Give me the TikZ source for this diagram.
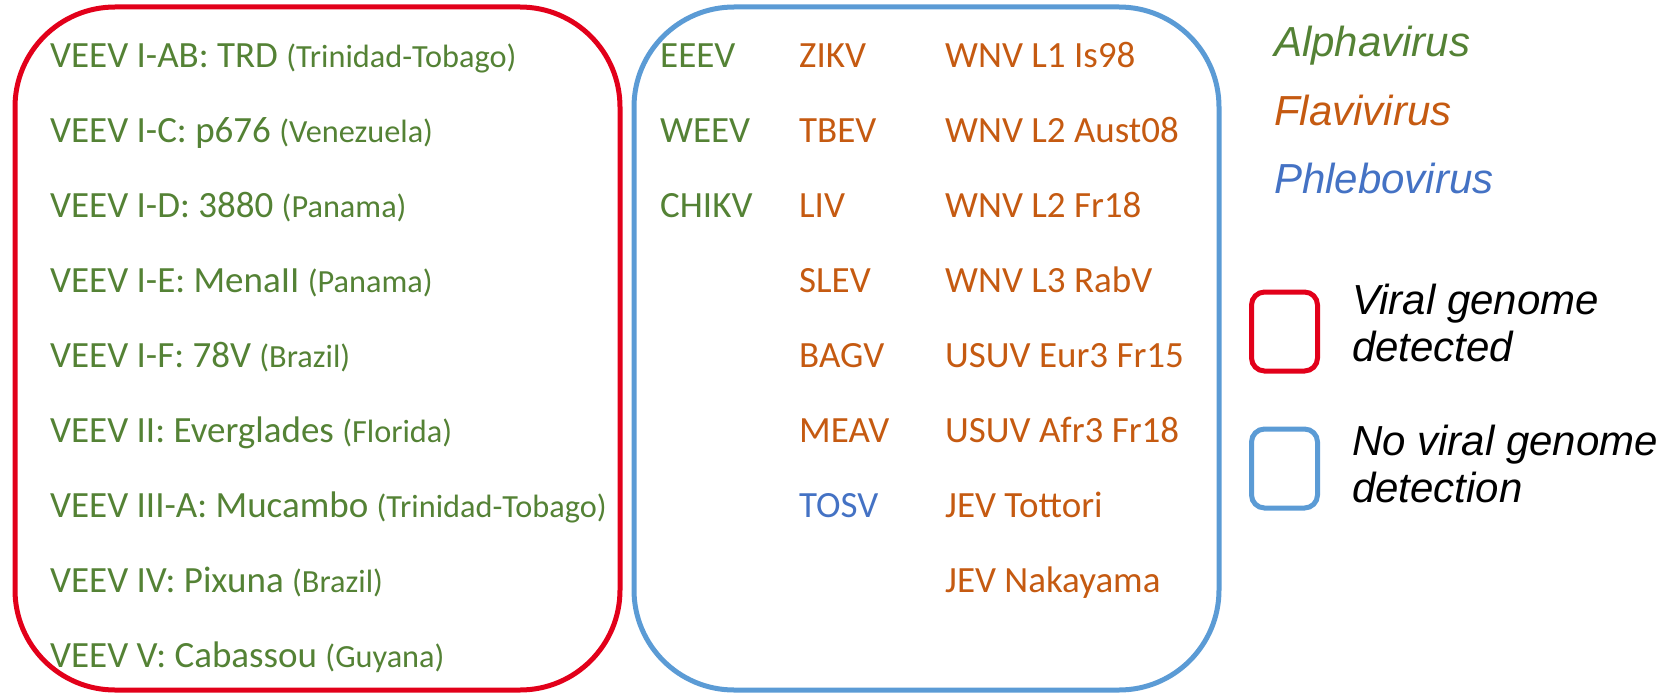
\documentclass[tikz,border=0pt]{standalone}
\usepackage{fontspec}
\setmainfont{Carlito}
\newfontfamily\legfont{Liberation Sans}
\definecolor{vgreen}{HTML}{548235}
\definecolor{vorange}{HTML}{C55A11}
\definecolor{vblue}{HTML}{4472C4}
\definecolor{boxred}{HTML}{E2001A}
\definecolor{boxblue}{HTML}{5B9BD5}
\newcommand\ctry[1]{{\fontsize{32.3}{34}\selectfont(#1)}}
\begin{document}
\begin{tikzpicture}[x=1pt,y=-1pt,
  txt/.style={anchor=base west, inner sep=0pt, font=\fontsize{37}{40}\selectfont},
  grn/.style={txt, text=vgreen},
  org/.style={txt, text=vorange},
  blu/.style={txt, text=vblue},
  bigbox/.style={draw=#1, line width=5pt, rounded corners=100pt, inner sep=0pt, minimum width=590pt, minimum height=683pt},
  legbox/.style={draw=#1, line width=5pt, rounded corners=13pt, inner sep=0pt, minimum width=66pt, minimum height=79pt},
  legtxt/.style={anchor=base west, inner sep=0pt, align=left, font=\legfont\itshape\fontsize{42}{47}\selectfont}
]
\useasboundingbox (0,0) rectangle (1676,693);
% boxes
\node[bigbox=boxred, minimum width=605pt] (redbox) at (317.5,348.5) {};
\node[bigbox=boxblue, minimum width=585pt] (bluebox) at (926.5,348.5) {};
% left column
\node[grn] (r1) at (50,67) {VEEV I-AB: TRD \ctry{Trinidad-Tobago}};
\node[grn] (r2) at (50,142) {VEEV I-C: p676 \ctry{Venezuela}};
\node[grn] (r3) at (50,217) {VEEV I-D: 3880 \ctry{Panama}};
\node[grn] (r4) at (50,292) {VEEV I-E: MenaII \ctry{Panama}};
\node[grn] (r5) at (50,367) {VEEV I-F: 78V \ctry{Brazil}};
\node[grn] (r6) at (50,442) {VEEV II: Everglades \ctry{Florida}};
\node[grn] (r7) at (50,517) {VEEV III-A: Mucambo \ctry{Trinidad-Tobago}};
\node[grn] (r8) at (50,592) {VEEV IV: Pixuna \ctry{Brazil}};
\node[grn] (r9) at (50,667) {VEEV V: Cabassou \ctry{Guyana}};
% blue box col 1
\node[grn] (a1) at (660,67) {EEEV};
\node[grn] (a2) at (660,142) {WEEV};
\node[grn] (a3) at (660,217) {CHIKV};
% col 2
\node[org] (b1) at (799,67) {ZIKV};
\node[org] (b2) at (799,142) {TBEV};
\node[org] (b3) at (799,217) {LIV};
\node[org] (b4) at (799,292) {SLEV};
\node[org] (b5) at (799,367) {BAGV};
\node[org] (b6) at (799,442) {MEAV};
\node[blu] (b7) at (799,517) {TOSV};
% col 3
\node[org] (c1) at (945,67) {WNV L1 Is98};
\node[org] (c2) at (945,142) {WNV L2 Aust08};
\node[org] (c3) at (945,217) {WNV L2 Fr18};
\node[org] (c4) at (945,292) {WNV L3 RabV};
\node[org] (c5) at (945,367) {USUV Eur3 Fr15};
\node[org] (c6) at (945,442) {USUV Afr3 Fr18};
\node[org] (c7) at (945,517) {JEV Tottori};
\node[org] (c8) at (945,592) {JEV Nakayama};
% legend
\node[legtxt, text=vgreen] (lalpha) at (1274,57) {Alphavirus};
\node[legtxt, text=vorange] (lflavi) at (1274,125) {Flavivirus};
\node[legtxt, text=vblue] (lphlebo) at (1274,193) {Phlebovirus};
\node[legbox=boxred] (lred) at (1284.5,331.5) {};
\node[legbox=boxblue] (lblue) at (1284.5,468.5) {};
\node[legtxt] (ldet) at (1352,361) {Viral genome\\detected};
\node[legtxt] (lnodet) at (1352,502) {No viral genome\\detection};
\end{tikzpicture}
\end{document}
